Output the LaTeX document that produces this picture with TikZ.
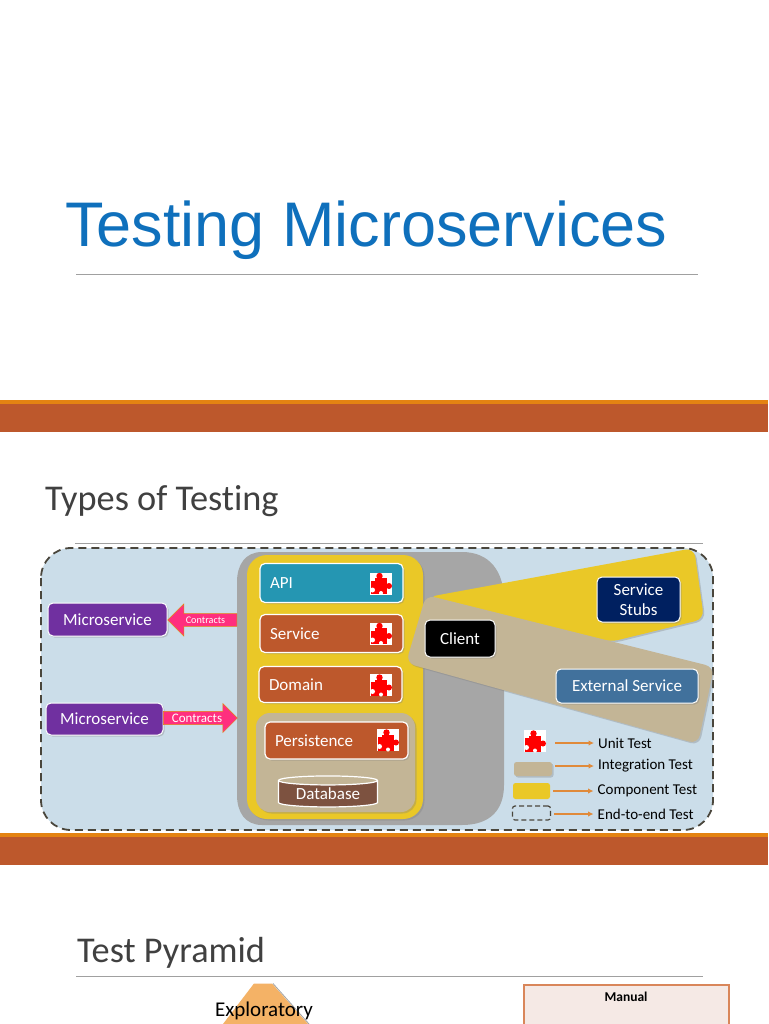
\documentclass[tikz,border=0pt]{standalone}
\usepackage{fontspec}
\setmainfont{Carlito}[Ligatures=CommonOff]
\newfontfamily\titlefont{Liberation Sans}
\usepackage{xcolor}
\definecolor{slide-blue}{HTML}{0F70BC}
\definecolor{slide-text}{HTML}{404040}
\definecolor{slide-rule}{HTML}{A0A0A0}
\definecolor{band-orange}{HTML}{E48312}
\definecolor{band-rust}{HTML}{BD582C}
\definecolor{panel-blue}{HTML}{CBDDE9}
\definecolor{panel-grey}{HTML}{A6A6A6}
\definecolor{comp-yellow}{HTML}{EAC827}
\definecolor{integ-tan}{HTML}{C3B596}
\definecolor{dash-dark}{HTML}{4A463C}
\definecolor{api-teal}{HTML}{2596B2}
\definecolor{ms-purple}{HTML}{7030A0}
\definecolor{contract-pink}{HTML}{FF2F7E}
\definecolor{db-brown}{HTML}{7D5240}
\definecolor{stub-navy}{HTML}{002060}
\definecolor{ext-blue}{HTML}{41719C}
\definecolor{pyr-orange}{HTML}{F4B266}
\definecolor{manual-fill}{HTML}{F5E9E5}
\definecolor{manual-line}{HTML}{D9865A}
\definecolor{key-orange}{HTML}{E08A3A}
\usepackage{tikz}
\usetikzlibrary{shapes.geometric,shapes.arrows,shadows,arrows.meta}

\tikzset{
    softshadow/.style={drop shadow={opacity=.35,shadow xshift=1.5pt,shadow yshift=-1.5pt}},
    headtext/.style={anchor=base west,inner sep=0,text=slide-text,font=\fontsize{36.3}{40}\selectfont},
    tierbox/.style={rectangle,rounded corners=5pt,draw=white,line width=1.2pt,text=white,softshadow,
        inner xsep=10pt,inner ysep=0,text width=123pt,align=left,font=\fontsize{17}{20}\selectfont},
    appbox/.style={rectangle,rounded corners=5pt,draw=white,line width=1pt,text=white,softshadow,
        inner sep=0,align=center,font=\fontsize{17}{20}\selectfont},
    contract/.style={single arrow,fill=contract-pink,draw=band-orange,line width=.5pt,text=white,inner xsep=0,
        single arrow head indent=0pt},
    keytext/.style={anchor=west,inner sep=0,text=black,font=\fontsize{15}{17}\selectfont},
    keyarrow/.style={draw=key-orange,line width=1.1pt,-{Latex[length=5.5pt,width=5.5pt]},
        shorten <=3pt,shorten >=4pt},
    keyswatch/.style={rectangle,rounded corners=2.5pt,inner sep=0},
    puzzle/.pic={
        \node[fill=white,minimum size=22pt,inner sep=0] (-box) at (0,0) {};
        \fill[red] (-10,-5.5) rectangle (6,10.5);
        \fill[red] (-1.5,-7.5) circle (3.2);
        \fill[red] (8,2.5) circle (3);
        \fill[white] (-8.5,6.5) circle (2.5);
        \fill[white] (0,9.5) circle (2);
        \fill[white] (-11,-6) rectangle (-6,-3);
    }
}

\begin{document}
\begin{tikzpicture}[x=1pt,y=-1pt]
    \useasboundingbox (0,0) rectangle (768,1024);

    % Background
    \fill[white] (0,0) rectangle (768,1024);

    % Title
    \node[anchor=base west,inner sep=0,text=slide-blue,font=\titlefont\fontsize{63}{70}\selectfont] (title) at (65,246) {Testing Microservices};
    \draw[slide-rule,line width=.7pt] (76,274.5) -- (698,274.5);

    % Bands
    \fill[band-orange] (0,400) rectangle (768,404);
    \fill[band-rust] (0,404) rectangle (768,432);

    % Types of Testing
    \node[headtext] (typesHead) at (45,510) {Types of Testing};
    \draw[slide-rule,line width=.7pt] (75,543.5) -- (703,543.5);

    % Outer end-to-end panel
    \fill[panel-blue,draw=dash-dark,line width=1.8pt,dash pattern=on 8pt off 5pt,rounded corners=30pt]
    (41,548) rectangle (713,830);

    % Grey panel
    \fill[panel-grey]
    (262,552) -- (462,552)
    .. controls (490,552) and (504,572) .. (504,600)
    -- (504,785)
    .. controls (504,810) and (490,825) .. (462,825)
    -- (262,825)
    .. controls (245,825) and (237,812) .. (237,795)
    -- (237,582)
    .. controls (237,565) and (245,552) .. (262,552)
    -- cycle;

    % Component panel
    \fill[comp-yellow,rounded corners=20pt,softshadow] (247,555) rectangle (423,819);
    \fill[comp-yellow,rounded corners=9pt,softshadow]
    (428,597) -- (694,548) -- (704,619) -- (610,642) -- cycle;

    % Integration panels
    \fill[integ-tan,rounded corners=14pt,softshadow] (256,713) rectangle (415,812);
    \fill[integ-tan,rounded corners=9pt,softshadow]
    (426,595) -- (714,667) -- (698,744) -- (406,663) -- cycle;

    % Tiers
    \node[tierbox,fill=api-teal,minimum height=39pt] (api) at (331.5,583) {API};
    \node[tierbox,fill=band-rust,minimum height=38pt] (service) at (331.5,633.5) {Service};
    \node[tierbox,fill=band-rust,minimum height=36pt] (domain) at (330.5,684.5) {Domain};
    \node[tierbox,fill=band-rust,minimum height=37pt] (persistence) at (336.5,740.5) {Persistence};
    \node[cylinder,shape border rotate=90,aspect=.14,draw=white,line width=1.2pt,cylinder uses custom fill,
        cylinder body fill=db-brown,cylinder end fill=integ-tan,text=white,inner sep=0,
        minimum width=99pt,minimum height=31pt,font=\fontsize{17}{20}\selectfont] (database) at (328,794) {Database};

    % Puzzle pieces
    \pic (apiPiece) at (381,583.5) {puzzle};
    \pic (servicePiece) at (381,633.5) {puzzle};
    \pic (domainPiece) at (381,685) {puzzle};
    \pic (persistencePiece) at (388,740) {puzzle};

    % Microservices
    \node[appbox,fill=ms-purple,minimum width=119pt,minimum height=33pt] (msOne) at (107.5,619.5) {Microservice};
    \node[appbox,fill=ms-purple,minimum width=117pt,minimum height=32pt] (msTwo) at (104.5,719) {Microservice};

    % Contracts
    \node[contract,shape border rotate=180,minimum height=69pt,minimum width=32pt,inner ysep=2.5pt,
        single arrow head extend=9pt,font=\fontsize{10.2}{11}\selectfont] (contractOne) at (205.5,620) {Contracts};
    \node[contract,minimum height=74pt,minimum width=29pt,inner ysep=1.5pt,
        single arrow head extend=7pt,font=\fontsize{13}{14}\selectfont] (contractTwo) at (197,718) {Contracts};

    % Client and services
    \node[appbox,fill=black,minimum width=70pt,minimum height=37pt] (client) at (460,638.5) {Client};
    \node[appbox,fill=stub-navy,minimum width=83pt,minimum height=45pt] (stubs) at (638.5,599.5) {Service\\[0pt]Stubs};
    \node[appbox,fill=ext-blue,minimum width=142pt,minimum height=34pt] (external) at (627,686) {External Service};

    % Legend
    \pic (unitKey) at (535,741) {puzzle};
    \node[keyswatch,fill=integ-tan,softshadow,minimum width=38pt,minimum height=14pt] (integKey) at (533,769) {};
    \node[keyswatch,fill=comp-yellow,minimum width=37pt,minimum height=16pt] (compKey) at (531.5,791) {};
    \node[keyswatch,draw=dash-dark,line width=1.2pt,dash pattern=on 5pt off 3pt,minimum width=38pt,minimum height=14pt] (endKey) at (531.5,813) {};

    \node[keytext] (unitText) at (598,743) {Unit Test};
    \node[keytext] (integText) at (598,766) {Integration Test};
    \node[keytext] (compText) at (597.5,791) {Component Test};
    \node[keytext] (endText) at (597.5,814) {End-to-end Test};

    \draw[keyarrow,shorten <=9pt] (unitKey-box.east |- unitText.west) -- (unitText.west);
    \draw[keyarrow] (integKey.east |- integText.west) -- (integText.west);
    \draw[keyarrow] (compKey.east |- compText.west) -- (compText.west);
    \draw[keyarrow] (endKey.east |- endText.west) -- (endText.west);

    % Second band
    \fill[band-orange] (0,832.5) rectangle (768,836.5);
    \fill[band-rust] (0,836.5) rectangle (768,865);

    % Test Pyramid
    \node[headtext] (pyramidHead) at (77,962) {Test Pyramid};
    \draw[slide-rule,line width=.7pt] (76,976) -- (703,976);

    \fill[pyr-orange] (254,983.5) -- (272,983.5) -- (308,1024) -- (223,1024) -- cycle;
    \draw[panel-grey,line width=.8pt] (273,983.5) -- (309,1024);
    \node[inner sep=0,text=black,font=\fontsize{21}{23}\selectfont] (exploratory) at (264,1011) {Exploratory};

    % Manual box
    \fill[manual-fill] (524,985) rectangle (729,1024);
    \draw[manual-line,line width=1.2pt] (524,1024) -- (524,985) -- (729,985) -- (729,1024);
    \node[inner sep=0,text=black,font=\bfseries\fontsize{13.5}{15}\selectfont] (manual) at (626,997) {Manual};

\end{tikzpicture}
\end{document}
